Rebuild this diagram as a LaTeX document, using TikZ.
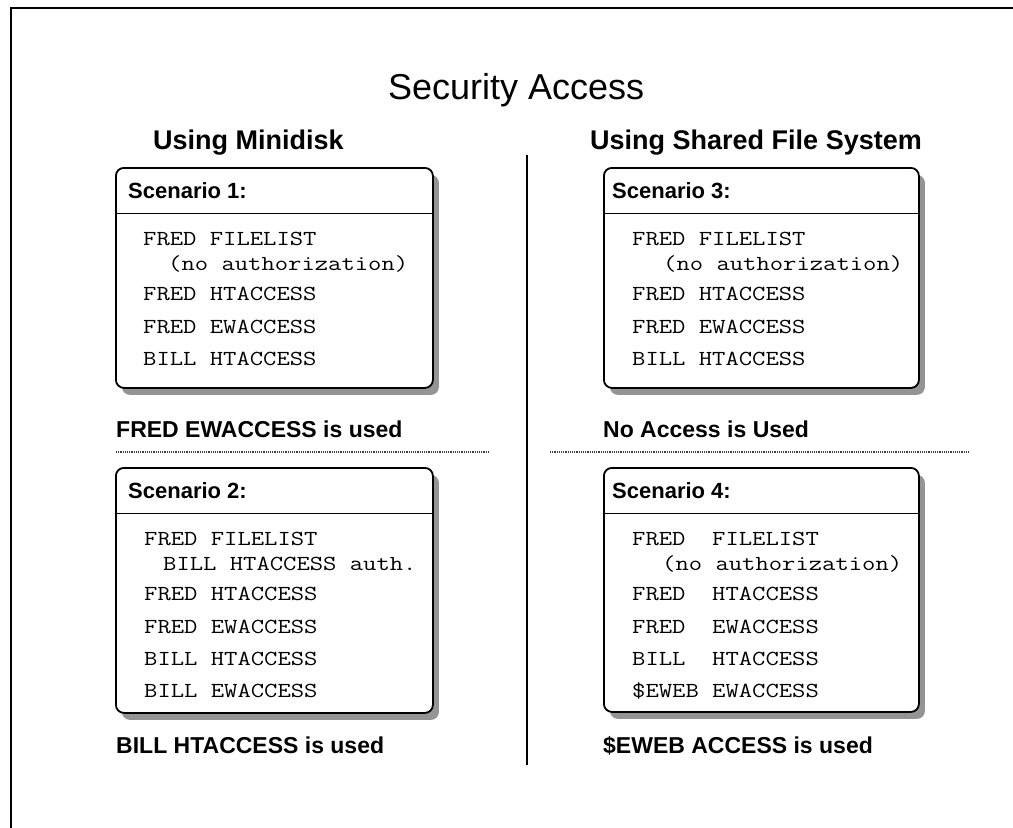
\documentclass[tikz,border=0pt]{standalone}
\usepackage{fontspec}
\setmainfont{Liberation Sans}
\setmonofont{Latin Modern Mono}[FakeStretch=1.21]
\usetikzlibrary{shadows}

\begin{document}
\begin{tikzpicture}[x=1pt,y=-1pt,
  rulecol/.style={line width=1.8pt,draw=black},
  scenbox/.style={draw=black,line width=1.8pt,fill=white,rounded corners=8pt,
    anchor=north west,inner sep=0pt,minimum width=317pt,
    drop shadow={shadow xshift=6pt,shadow yshift=-7pt,fill=black!42,opacity=1}},
  hdrline/.style={line width=1.5pt},
  sepline/.style={line width=1.1pt,draw=black!75,dash pattern=on 1.2pt off 1pt},
  titletext/.style={anchor=base west,inner sep=0pt,font=\fontsize{36}{40}\selectfont},
  subhead/.style={anchor=base west,inner sep=0pt,font=\bfseries\fontsize{27}{30}\selectfont},
  scenhead/.style={anchor=base west,inner sep=0pt,font=\bfseries\fontsize{22}{25}\selectfont},
  captext/.style={anchor=base west,inner sep=0pt,font=\bfseries\fontsize{23}{26}\selectfont},
  code/.style={anchor=base west,inner sep=0pt,font=\ttfamily\fontsize{21.4}{24}\selectfont}]

\useasboundingbox (0,0) rectangle (1013,828);
\clip (0,0) rectangle (1013,828);
\fill[white] (0,0) rectangle (1013,828);

% outer frame, running off the page on the right and at the bottom
\coordinate (fbl) at (11,840);
\coordinate (ftl) at (11,8);
\coordinate (ftr) at (1030,8);
\draw[rulecol] (fbl) -- (ftl) -- (ftr);

% headings
\node[titletext] (title) at (388,99) {Security Access};
\node[subhead] (minidisk) at (153,149) {Using Minidisk};
\node[subhead] (sfs) at (590,149) {Using Shared File System};

% column divider and row separators
\coordinate (vtop) at (527,155);
\coordinate (vbot) at (527,765);
\draw[rulecol] (vtop) -- (vbot);
\coordinate (sepl1) at (116,452);
\coordinate (sepl2) at (490,452);
\coordinate (sepr1) at (550,452);
\coordinate (sepr2) at (970,452);
\draw[sepline] (sepl1) -- (sepl2);
\draw[sepline] (sepr1) -- (sepr2);

% scenario boxes
\node[scenbox,minimum height=220pt] (s1) at (115,167) {};
\node[scenbox,minimum height=245pt] (s2) at (115,467) {};
\node[scenbox,minimum width=315pt,minimum height=220pt] (s3) at (603,167) {};
\node[scenbox,minimum width=315pt,minimum height=244pt] (s4) at (603,467) {};
\foreach \b in {s1,s2,s3,s4}{
  \draw[hdrline] ([yshift=-46.5pt]\b.north west) -- ([yshift=-46.5pt]\b.north east);
}

% scenario 1
\node[scenhead] (h1) at (128,198) {Scenario 1:};
\node[code] (a1) at (143,245) {FRED FILELIST};
\node[code] (a2) at (168,270) {(no authorization)};
\node[code] (a3) at (143,300) {FRED HTACCESS};
\node[code] (a4) at (143,333) {FRED EWACCESS};
\node[code] (a5) at (143,365) {BILL HTACCESS};
\node[captext] (c1) at (116,437) {FRED EWACCESS is used};

% scenario 2
\node[scenhead] (h2) at (128,498) {Scenario 2:};
\node[code] (b1) at (144,545) {FRED FILELIST};
\node[code] (b2) at (163,570) {BILL HTACCESS auth.};
\node[code] (b3) at (144,600) {FRED HTACCESS};
\node[code] (b4) at (144,633) {FRED EWACCESS};
\node[code] (b5) at (144,665) {BILL HTACCESS};
\node[code] (b6) at (144,697) {BILL EWACCESS};
\node[captext] (c2) at (116,753) {BILL HTACCESS is used};

% scenario 3
\node[scenhead] (h3) at (612,198) {Scenario 3:};
\node[code] (d1) at (632,245) {FRED FILELIST};
\node[code] (d2) at (663,270) {(no authorization)};
\node[code] (d3) at (632,300) {FRED HTACCESS};
\node[code] (d4) at (632,333) {FRED EWACCESS};
\node[code] (d5) at (632,365) {BILL HTACCESS};
\node[captext] (c3) at (603,437) {No Access is Used};

% scenario 4
\node[scenhead] (h4) at (612,498) {Scenario 4:};
\node[code] (e1) at (632,545) {FRED\ \ FILELIST};
\node[code] (e2) at (662,570) {(no authorization)};
\node[code] (e3) at (632,600) {FRED\ \ HTACCESS};
\node[code] (e4) at (632,633) {FRED\ \ EWACCESS};
\node[code] (e5) at (632,665) {BILL\ \ HTACCESS};
\node[code] (e6) at (632,697) {\$EWEB EWACCESS};
\node[captext] (c4) at (603,753) {\$EWEB ACCESS is used};
\end{tikzpicture}
\end{document}
